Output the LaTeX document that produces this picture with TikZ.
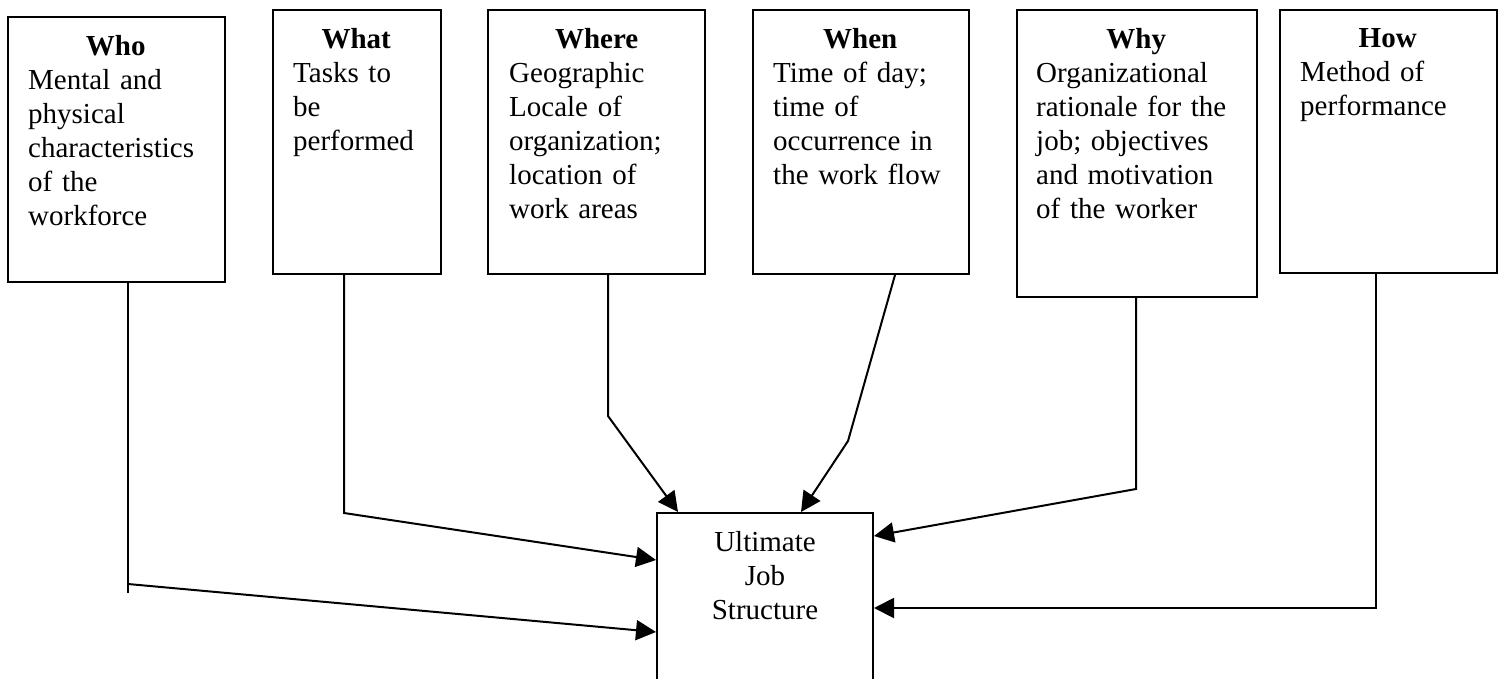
\documentclass[tikz,border=0pt]{standalone}
\usepackage{fontspec}
\setmainfont{Liberation Serif}
\usetikzlibrary{arrows.meta,calc}
\begin{document}
\begin{tikzpicture}[x=1pt,y=-1pt,
  box/.style={draw,line width=2pt,inner sep=0pt,anchor=north west},
  txt/.style={inner sep=0pt,anchor=north west,align=left,font=\fontsize{29}{34}\selectfont},
  conn/.style={line width=2pt},
  arr/.style={line width=2pt,-{Triangle[length=20pt,width=20pt]}}]
\useasboundingbox (0,0) rectangle (1503,679);
% boxes
\node[box,minimum width=217pt,minimum height=265pt] (who) at (7,16) {};
\node[box,minimum width=168pt,minimum height=264pt] (what) at (272,9) {};
\node[box,minimum width=217pt,minimum height=264pt] (where) at (487,9) {};
\node[box,minimum width=216pt,minimum height=264pt] (when) at (752,9) {};
\node[box,minimum width=240pt,minimum height=287pt] (why) at (1016,9) {};
\node[box,minimum width=217pt,minimum height=263pt] (how) at (1279,9) {};
\node[box,minimum width=216pt,minimum height=220pt] (ult) at (656,512) {};
% texts
\node[txt,text width=175pt] (whot) at ($(who.north west)+(21,19)$)
  {{\centering\bfseries Who\par}Mental and\\physical\\characteristics\\of the\\workforce};
\node[txt,text width=126pt] (whatt) at ($(what.north west)+(21,19)$)
  {{\centering\bfseries What\par}Tasks to\\be\\performed};
\node[txt,text width=175pt] (wheret) at ($(where.north west)+(22,19)$)
  {{\centering\bfseries Where\par}Geographic\\Locale of\\organization;\\location of\\work areas};
\node[txt,text width=174pt] (whent) at ($(when.north west)+(21,19)$)
  {{\centering\bfseries When\par}Time of day;\\time of\\occurrence in\\the work flow};
\node[txt,text width=200pt] (whyt) at ($(why.north west)+(20,19)$)
  {{\centering\bfseries Why\par}Organizational\\rationale for the\\job; objectives\\and motivation\\of the worker};
\node[txt,text width=175pt] (howt) at ($(how.north west)+(21,19)$)
  {{\centering\bfseries How\par}Method of\\performance};
\node[txt,anchor=north,align=center] (ultt) at ($(ult.north)+(0,19)$)
  {Ultimate\\Job\\Structure};
% connector points
\coordinate (w1) at (128,593);
\coordinate (w2) at (128,584);
\coordinate (a1) at (344,513);
\coordinate (b1) at (608,416);
\coordinate (c0) at (895,273);
\coordinate (c1) at (848,441);
\coordinate (d1) at (1136,489);
\coordinate (e1) at (1376,608);
% connectors
\draw[conn] (who.south -| w1) -- (w1);
\draw[arr] (w2) -- ($(ult.north west)+(0,120)$);
\draw[arr] (what.south -| a1) -- (a1) -- ($(ult.north west)+(0,48)$);
\draw[arr] (where.south -| b1) -- (b1) -- ($(ult.north west)+(22,0)$);
\draw[arr] (when.south -| c0) -- (c1) -- ($(ult.north west)+(145,0)$);
\draw[arr] (why.south -| d1) -- (d1) -- ($(ult.north east)+(0,24)$);
\draw[arr] (how.south -| e1) -- (e1) -- (ult.east |- e1);
\end{tikzpicture}
\end{document}
